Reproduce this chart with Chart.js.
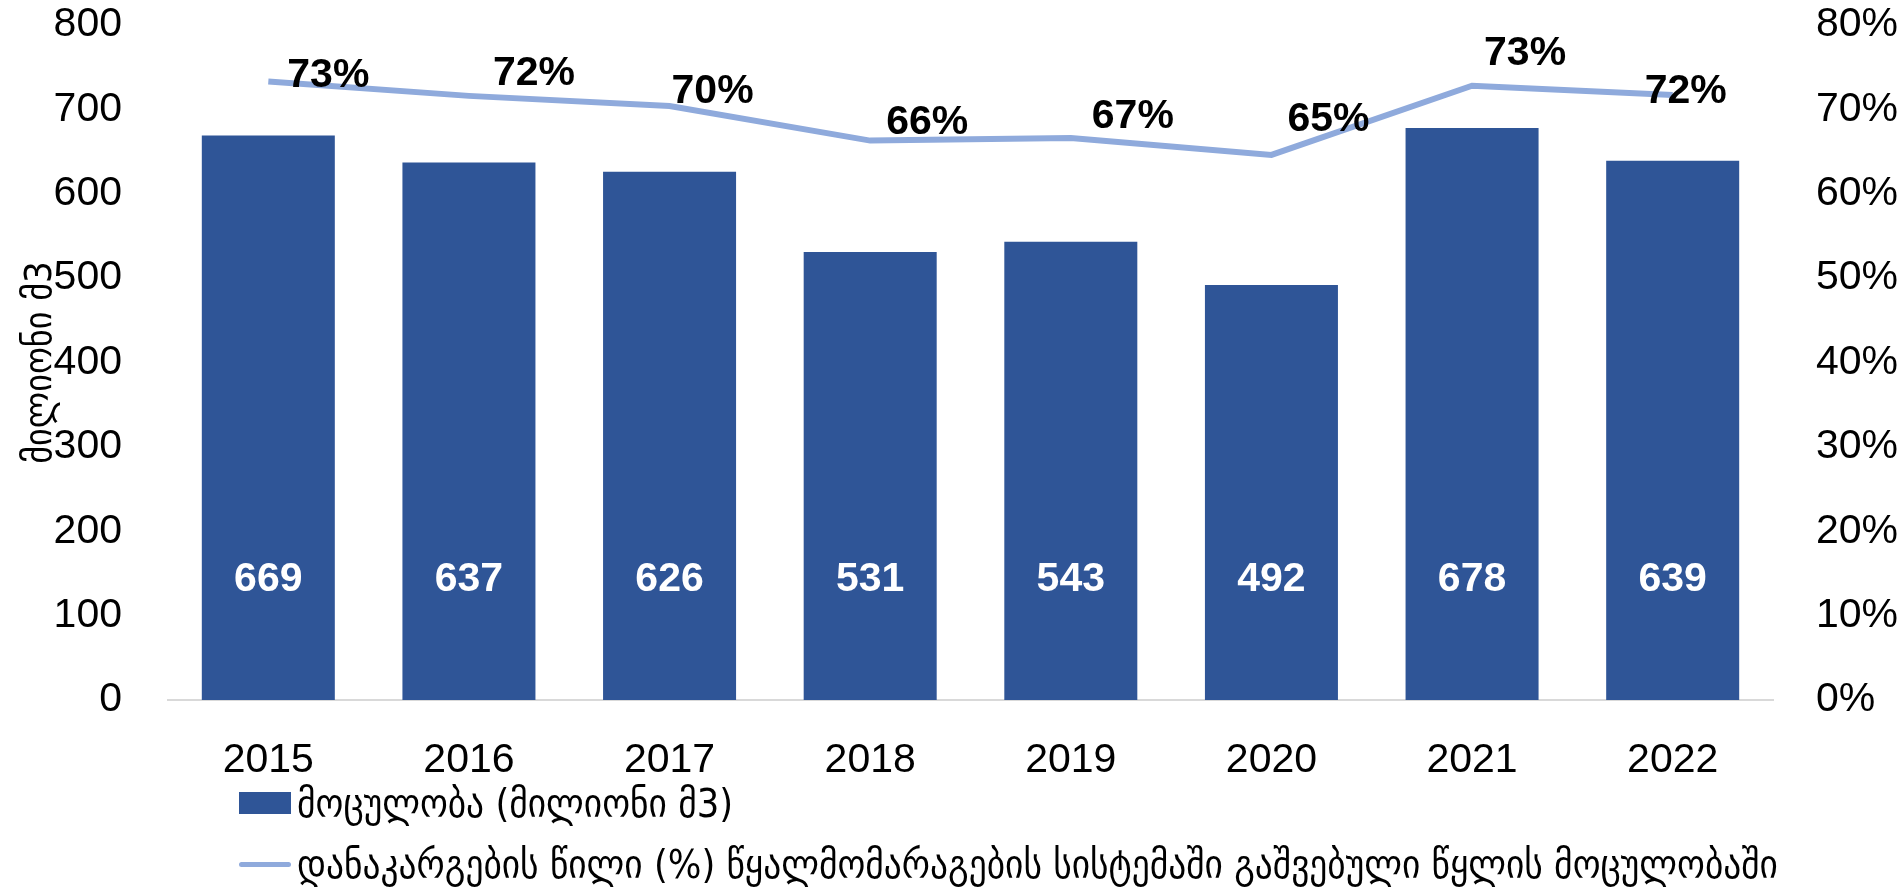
<!DOCTYPE html>
<html>
<head>
<meta charset="utf-8">
<script src="https://cdn.jsdelivr.net/npm/chart.js@4.4.1/dist/chart.umd.min.js"></script>
<style>
  html, body { margin: 0; padding: 0; background: #fff; }
  #wrap { position: relative; width: 1903px; height: 893px; }
  #legend { position: absolute; left: 239px; top: 0; font-family: "DejaVu Sans Condensed", "DejaVu Sans", sans-serif; font-size: 39.4px; color: #000; }
  .item { position: absolute; left: 0; display: flex; align-items: center; white-space: nowrap; height: 44px; }
  .swatch { width: 52px; margin-right: 6px; }
</style>
</head>
<body>
<div id="wrap">
  <canvas id="chart-water-losses"></canvas>
  <div id="legend"></div>
</div>
<script>
var years = ["2015", "2016", "2017", "2018", "2019", "2020", "2021", "2022"];
var volumes = [669, 637, 626, 531, 543, 492, 678, 639];
var lossShare = [73.3, 71.6, 70.4, 66.3, 66.6, 64.6, 72.8, 71.7];
var volumeLabel = "მოცულობა (მილიონი მ3)";
var lossLabel = "დანაკარგების წილი (%) წყალმომარაგების სისტემაში გაშვებული წყლის მოცულობაში";
var axisTitle = "მილიონი მ3";

// percent labels were moved by hand in the original, offsets from each point
var pctLabelNudge = [[60, -6], [65, -22], [43, -14], [57, -18], [62, -21], [57, -35], [53, -32], [13, -3]];

var tickFont = { size: 41, family: "'Liberation Sans', Arial, sans-serif" };

// value labels: white numbers inside bars, bold percents near the line
var valueLabels = {
  id: "valueLabels",
  afterDatasetsDraw: function (chart) {
    var ctx = chart.ctx;
    var yScale = chart.scales.y;
    ctx.save();
    ctx.font = "bold 41px 'Liberation Sans', Arial, sans-serif";
    ctx.textBaseline = "middle";
    ctx.textAlign = "center";
    ctx.fillStyle = "#fff";
    chart.getDatasetMeta(0).data.forEach(function (bar, i) {
      ctx.fillText(volumes[i], bar.x, yScale.getPixelForValue(143));
    });
    ctx.fillStyle = "#000";
    chart.getDatasetMeta(1).data.forEach(function (pt, i) {
      var n = pctLabelNudge[i];
      ctx.fillText(Math.round(lossShare[i]) + "%", pt.x + n[0], pt.y + n[1]);
    });
    ctx.restore();
  },
};

// keep the plot top where the 800 / 80% labels sit
function fixVertical(width) {
  return function (scale) {
    scale.width = width;
    scale.paddingTop = 25;
    scale.paddingBottom = 0;
  };
}

var ctx = document.getElementById("chart-water-losses").getContext("2d");

var chart = new Chart(ctx, {
  type: "bar",
  data: {
    labels: years,
    datasets: [
      {
        label: volumeLabel,
        data: volumes,
        backgroundColor: "#2F5597",
        borderWidth: 0,
        categoryPercentage: 1,
        barPercentage: 0.663,
        yAxisID: "y",
        order: 2,
      },
      {
        type: "line",
        label: lossLabel,
        data: lossShare,
        borderColor: "#8FAADC",
        backgroundColor: "#8FAADC",
        borderWidth: 6,
        pointRadius: 0,
        tension: 0,
        yAxisID: "y1",
        order: 1,
      },
    ],
  },
  options: {
    responsive: true,
    maintainAspectRatio: false,
    animation: false,
    layout: {
      padding: { top: 0, left: 0, right: 0, bottom: 0 },
    },
    plugins: {
      legend: { display: false },
      tooltip: { enabled: false },
    },
    scales: {
      x: {
        grid: { display: false },
        border: { display: true, color: "#D9D9D9", width: 2 },
        ticks: { font: tickFont, color: "#000", padding: 28 },
        afterFit: function (scale) {
          scale.height = 193;
        },
      },
      y: {
        position: "left",
        min: 0,
        max: 800,
        grid: { display: false },
        border: { display: false },
        ticks: { stepSize: 100, font: tickFont, color: "#000", padding: 38 },
        title: {
          display: true,
          text: axisTitle,
          color: "#000",
          font: { size: 38, family: "'DejaVu Sans Condensed', 'DejaVu Sans', sans-serif" },
          padding: { top: 18, bottom: 0 },
        },
        afterFit: fixVertical(168),
      },
      y1: {
        position: "right",
        min: 0,
        max: 80,
        grid: { display: false },
        border: { display: false },
        ticks: {
          stepSize: 10,
          font: tickFont,
          color: "#000",
          padding: 35,
          callback: function (value) {
            return value + "%";
          },
        },
        afterFit: fixVertical(130),
      },
    },
  },
  plugins: [valueLabels],
});

// legend below the plot, one item per row
var legend = document.getElementById("legend");
var rowTops = [781, 842];
chart.data.datasets.forEach(function (ds, i) {
  var item = document.createElement("div");
  item.className = "item";
  item.style.top = rowTops[i] + "px";
  var sw = document.createElement("span");
  sw.className = "swatch";
  sw.style.background = ds.type === "line" ? ds.borderColor : ds.backgroundColor;
  sw.style.height = ds.type === "line" ? "5px" : "22px";
  sw.style.borderRadius = ds.type === "line" ? "3px" : "0";
  var txt = document.createElement("span");
  txt.textContent = ds.label;
  item.appendChild(sw);
  item.appendChild(txt);
  legend.appendChild(item);
});
</script>
</body>
</html>
